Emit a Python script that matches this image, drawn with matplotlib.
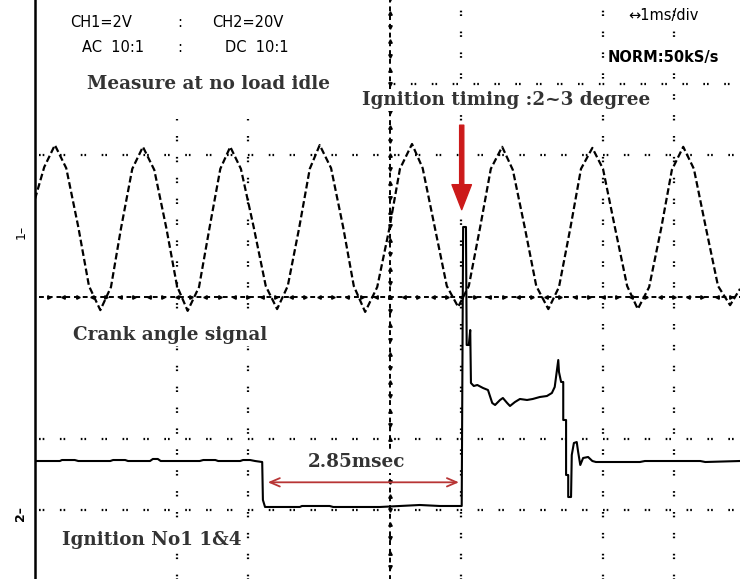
import matplotlib.pyplot as plt
import numpy as np

# scope settings: 1 ms/div, CH1 2 V/div (AC), CH2 20 V/div (DC)
ms_per_div = 1.0
ch1_v_per_div = 2.0
ch2_v_per_div = 20.0
ch1_ground = 1.0    # divisions above screen centre
ch2_ground = -3.0

# crank angle signal (CH1), time in ms from left edge of screen, volts
crank_t = [0.00, 0.13, 0.28, 0.44, 0.61, 0.76, 0.92, 1.07, 1.21, 1.37,
           1.52, 1.68, 1.85, 2.00, 2.15, 2.31, 2.46, 2.61, 2.75, 2.90,
           3.08, 3.25, 3.41, 3.56, 3.72, 3.87, 4.01, 4.17, 4.34, 4.49,
           4.65, 4.82, 4.99, 5.14, 5.31, 5.46, 5.63, 5.80, 5.96, 6.11,
           6.27, 6.42, 6.58, 6.73, 6.90, 7.06, 7.23, 7.38, 7.54, 7.69,
           7.85, 8.00, 8.17, 8.34, 8.49, 8.65, 8.82, 8.97, 9.13, 9.28,
           9.45, 9.62, 9.79, 9.93]
crank_v = [0.76, 1.66, 2.28, 1.63, -0.03, -1.69, -2.37, -1.72, -0.08, 1.61,
           2.23, 1.58, -0.06, -1.69, -2.39, -1.72, -0.03, 1.61, 2.23, 1.61,
           -0.03, -1.69, -2.34, -1.69, -0.06, 1.61, 2.28, 1.63, -0.03, -1.69,
           -2.42, -1.72, -0.08, 1.61, 2.31, 1.63, -0.03, -1.69, -2.28, -1.69,
           -0.03, 1.61, 2.23, 1.58, -0.06, -1.69, -2.34, -1.72, -0.06, 1.61,
           2.20, 1.61, -0.06, -1.69, -2.34, -1.72, -0.06, 1.58, 2.23, 1.61,
           -0.06, -1.69, -2.23, -1.77]

# ignition primary signal No1 (CH2)
ign_t = [0.00, 0.35, 0.38, 0.56, 0.61, 1.06, 1.10, 1.27, 1.31, 1.62,
         1.66, 1.73, 1.77, 2.32, 2.37, 2.54, 2.58, 2.89, 2.93, 3.03,
         3.10, 3.20, 3.21, 3.24, 3.73, 3.76, 4.15, 4.20, 4.86, 5.14,
         5.42, 5.70, 6.01, 6.03, 6.04, 6.07, 6.08, 6.11, 6.13, 6.14,
         6.18, 6.23, 6.31, 6.38, 6.44, 6.48, 6.55, 6.59, 6.65, 6.69,
         6.76, 6.83, 6.93, 7.01, 7.11, 7.21, 7.28, 7.32, 7.37, 7.38,
         7.41, 7.44, 7.44, 7.48, 7.48, 7.51, 7.51, 7.55, 7.56, 7.59,
         7.63, 7.65, 7.68, 7.72, 7.79, 7.85, 7.90, 8.52, 8.59, 9.37,
         9.44, 9.93]
ign_v = [13.80, 13.80, 14.08, 14.08, 13.80, 13.80, 14.08, 14.08, 13.80, 13.80,
         14.37, 14.37, 13.80, 13.80, 14.08, 14.08, 13.80, 13.80, 14.08, 14.08,
         13.80, 13.52, 2.82, 0.85, 0.85, 1.13, 1.13, 0.85, 0.85, 1.13,
         1.41, 1.13, 1.13, 79.72, 79.72, 79.72, 46.48, 46.48, 50.70, 35.77,
         34.93, 35.21, 34.37, 33.80, 30.14, 29.58, 30.99, 31.55, 30.14, 29.30,
         30.42, 31.27, 30.99, 31.27, 31.83, 32.11, 32.96, 34.65, 42.25, 38.87,
         36.06, 36.06, 25.35, 25.35, 9.86, 9.86, 3.66, 3.66, 15.49, 18.87,
         19.15, 16.34, 12.68, 14.65, 14.93, 13.80, 13.52, 13.52, 13.80, 13.80,
         13.52, 13.80]

dwell_start = 3.24
ign_time = 6.01

dark = '#333333'
red = '#cc1a1a'

fig = plt.figure(figsize=(7.4, 5.79), dpi=100)
ax = fig.add_axes([35 / 740, 0, 705 / 740, 1])
ax.set_xlim(0, 705 / 71)
ax.set_ylim((297 - 579) / 71, 297 / 71)
for s in ['top', 'right', 'bottom']:
    ax.spines[s].set_visible(False)
ax.spines['left'].set_linewidth(1.8)
ax.set_xticks([])
ax.set_yticks([])

# graticule (dash lengths get scaled by linewidth)
dots = (0, (0.75, 0.9, 0.75, 7.0))
for x in [2, 3]:
    ax.plot([x, x], [-4.2, 2.5], color='k', lw=1.6, ls=dots)
for x in [6, 8, 9]:
    ax.plot([x, x], [-4.2, 4.2], color='k', lw=1.6, ls=dots)
for y in [2, -2, -3]:
    ax.plot([0.05, 10], [y, y], color='k', lw=1.6, ls=dots)
ax.plot([5, 10], [3, 3], color='k', lw=1.6, ls=dots)

# centre lines with minor ticks
ax.plot([5, 5], [-4.2, 4.2], color='k', lw=1.4, ls=(0, (2.5, 2.0)))
ax.plot([0.05, 10], [0, 0], color='k', lw=1.4, ls=(0, (2.5, 2.0)))
ticks = np.arange(0.2, 10, 0.4)
ax.plot(ticks, np.zeros_like(ticks), ls='none', marker='>', ms=2.5, color='k')
ax.plot(ticks + 0.2, np.zeros_like(ticks), ls='none', marker='<', ms=2.5, color='k')
vt = np.arange(-4, 4.2, 0.4)
ax.plot(np.full_like(vt, 5), vt, ls='none', marker='^', ms=2.5, color='k')
ax.plot(np.full_like(vt, 5), vt + 0.2, ls='none', marker='v', ms=2.5, color='k')

# traces
ax.plot(crank_t, np.array(crank_v) / ch1_v_per_div + ch1_ground,
        color='k', lw=1.6, ls=(0, (3.0, 1.4)))
ax.plot(ign_t, np.array(ign_v) / ch2_v_per_div + ch2_ground,
        color='k', lw=1.5)

# header readouts
mono = dict(family='DejaVu Sans', fontsize=10.5, color='k', va='center')
ax.text(0.49, 3.87, 'CH1=2V', **mono)
ax.text(2.0, 3.87, ':', **mono)
ax.text(2.49, 3.87, 'CH2=20V', **mono)
ax.text(0.66, 3.51, 'AC  10:1', **mono)
ax.text(2.0, 3.51, ':', **mono)
ax.text(2.68, 3.51, 'DC  10:1', **mono)
ax.text(8.35, 3.97, '\u21941ms/div', **mono)
ax.text(8.06, 3.38, 'NORM:50kS/s', fontweight='bold',
        bbox=dict(fc='white', ec='none', pad=1), **mono)

# channel markers
ax.text(-0.2, 0.92, '1\u2013', rotation=90, ha='center', va='center',
        fontsize=9, color='k', clip_on=False)
ax.text(-0.2, -3.05, '2\u2013', rotation=90, ha='center', va='center',
        fontsize=9, color='k', fontweight='bold', clip_on=False)

# labels
lab = dict(family='DejaVu Serif', fontweight='bold', fontsize=13.2,
           color=dark, ha='center', va='center',
           bbox=dict(fc='white', ec='none', pad=1.5))
ax.text(2.44, 3.0, 'Measure at no load idle', **lab)
ax.text(6.63, 2.77, 'Ignition timing :2~3 degree', **lab)
ax.text(1.90, -0.53, 'Crank angle signal', **lab)
ax.text(1.65, -3.42, 'Ignition No1 1&4', **lab)
ax.text(4.53, -2.32, '2.85msec', **lab)

# arrows
ax.annotate('', xy=(ign_time, 1.23), xytext=(ign_time, 2.42),
            arrowprops=dict(facecolor=red, edgecolor=red, width=3,
                            headwidth=14, headlength=18))
ax.annotate('', xy=(dwell_start, -2.61), xytext=(ign_time, -2.61),
            arrowprops=dict(arrowstyle='<->,head_length=0.7,head_width=0.3',
                            color='#b83535', lw=1.3))

fig.savefig('out.png', dpi=100)
